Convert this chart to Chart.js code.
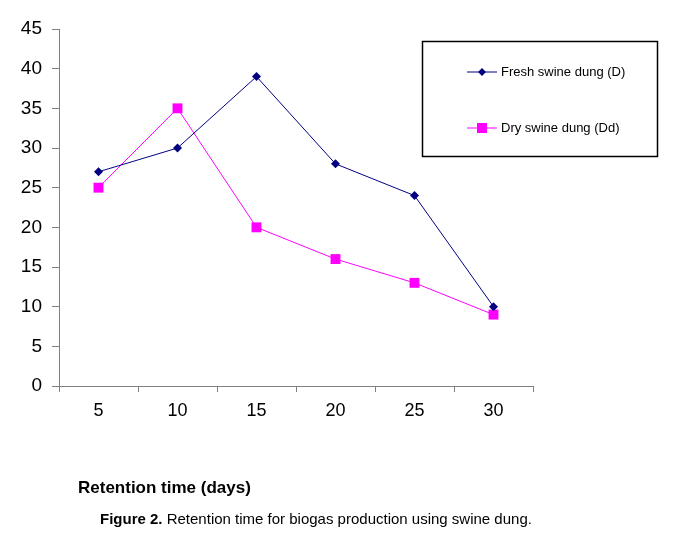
<!DOCTYPE html>
<html>
<head>
<meta charset="utf-8">
<script src="https://cdn.jsdelivr.net/npm/chart.js@4/dist/chart.umd.min.js"></script>
<style>
  html, body { margin: 0; padding: 0; background: #fff; }
  #wrap { position: relative; width: 682px; height: 542px; }
  #myChart { position: absolute; left: 0; top: 0; }
  .xtitle { position: absolute; left: 78px; top: 478px; font: bold 17px "Liberation Sans", Arial, sans-serif; color: #000; }
  .caption { position: absolute; left: 100px; top: 510px; font: 15px "Liberation Sans", Arial, sans-serif; color: #000; white-space: nowrap; }
</style>
</head>
<body>
<div id="wrap">
  <canvas id="myChart" width="682" height="542"></canvas>
  <div class="xtitle">Retention time (days)</div>
  <div class="caption"><b>Figure 2.</b> Retention time for biogas production using swine dung.</div>
</div>
<script>
// Данные
const days = ['5', '10', '15', '20', '25', '30'];
const freshDung = [27, 30, 39, 28, 24, 10];
const dryDung = [25, 35, 20, 16, 13, 9];
const yTicks = [0, 5, 10, 15, 20, 25, 30, 35, 40, 45];

// Легенда в рамке справа
const boxLegend = {
    id: 'boxLegend',
    afterDraw(chart) {
        const c = chart.ctx;
        c.save();
        c.strokeStyle = '#000';
        c.lineWidth = 1.5;
        c.strokeRect(422.5, 41.5, 235, 115);
        const rows = [72, 128];
        chart.data.datasets.forEach(function(ds, i) {
            const y = rows[i];
            c.strokeStyle = ds.borderColor;
            c.lineWidth = 1;
            c.beginPath();
            c.moveTo(467, y);
            c.lineTo(497, y);
            c.stroke();
            c.fillStyle = ds.pointBackgroundColor;
            if (ds.pointStyle === 'rect') {
                c.fillRect(477, y - 5, 10, 10);
            } else {
                c.beginPath();
                c.moveTo(482, y - 4);
                c.lineTo(486, y);
                c.lineTo(482, y + 4);
                c.lineTo(478, y);
                c.closePath();
                c.fill();
            }
            c.fillStyle = '#000';
            c.font = '13px "Liberation Sans", Arial, sans-serif';
            c.textBaseline = 'middle';
            c.fillText(ds.label, 501, y);
        });
        c.restore();
    }
};

const ctx = document.getElementById('myChart').getContext('2d');
const chart = new Chart(ctx, {
    type: 'line',
    data: {
        labels: days,
        datasets: [
            {
                label: 'Fresh swine dung (D)',
                data: freshDung,
                borderColor: '#000080',
                pointBackgroundColor: '#000080',
                pointBorderColor: '#000080',
                borderWidth: 1,
                pointStyle: 'rectRot',
                pointRadius: 4.5,
                pointBorderWidth: 0,
                tension: 0,
                fill: false,
            },
            {
                label: 'Dry swine dung (Dd)',
                data: dryDung,
                borderColor: '#ff00ff',
                pointBackgroundColor: '#ff00ff',
                pointBorderColor: '#ff00ff',
                borderWidth: 1,
                pointStyle: 'rect',
                pointRadius: 7,
                pointBorderWidth: 0,
                tension: 0,
                fill: false,
            }
        ]
    },
    options: {
        responsive: false,
        animation: false,
        layout: { padding: { top: 29, right: 149, left: 0, bottom: 0 } },
        plugins: {
            legend: { display: false },
            tooltip: { enabled: false },
        },
        scales: {
            x: {
                offset: true,
                grid: { offset: true, drawOnChartArea: false, drawTicks: true, tickLength: 6, color: '#808080' },
                border: { color: '#808080', width: 1 },
                ticks: { color: '#000', font: { family: '"Liberation Sans", Arial, sans-serif', size: 18 }, padding: 8, maxRotation: 0 },
                afterFit: function(s) { s.height = 156; },
            },
            y: {
                min: 0,
                max: 45,
                afterBuildTicks: function(s) { s.ticks = yTicks.map(v => ({ value: v })); },
                grid: { drawOnChartArea: false, drawTicks: true, tickLength: 7, color: '#808080' },
                border: { color: '#808080', width: 1 },
                ticks: { color: '#000', font: { family: '"Liberation Sans", Arial, sans-serif', size: 19 }, padding: 10 },
                afterFit: function(s) { s.width = 59; },
            },
        },
    },
    plugins: [boxLegend],
});
</script>
</body>
</html>
